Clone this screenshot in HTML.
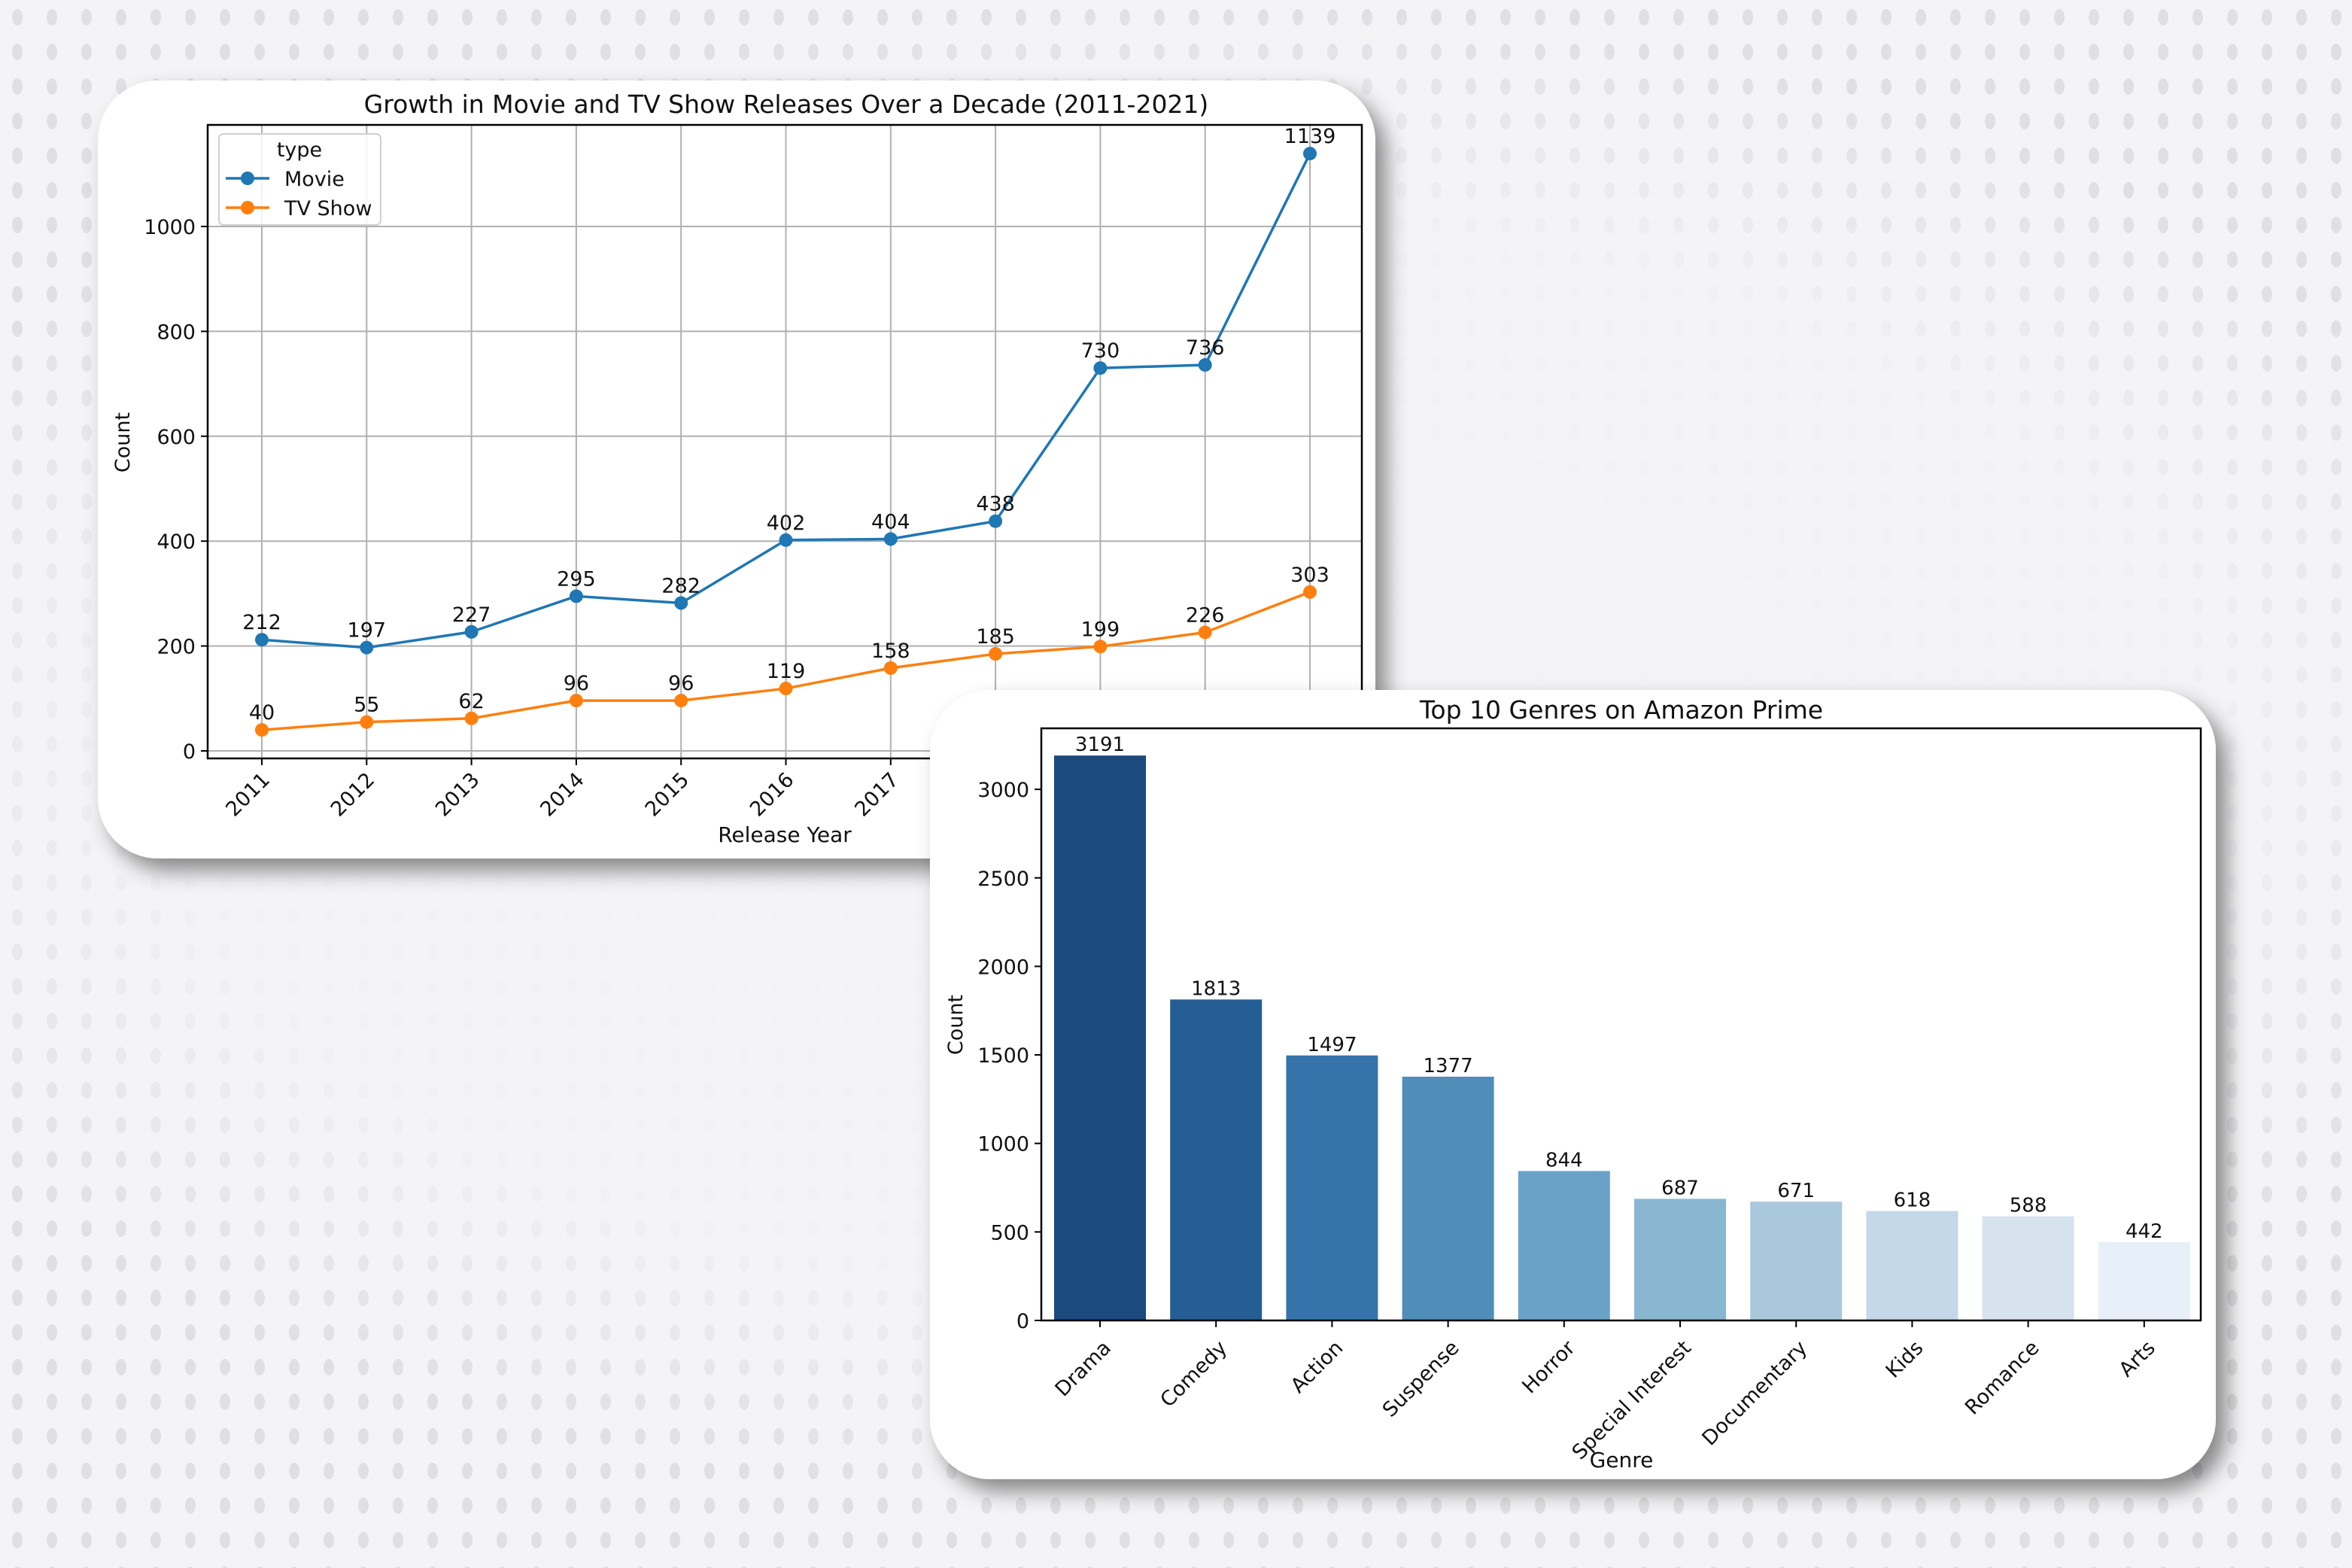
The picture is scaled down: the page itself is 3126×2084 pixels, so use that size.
<!DOCTYPE html>
<html><head><meta charset="utf-8"><style>
html,body{margin:0;padding:0;width:3126px;height:2084px;overflow:hidden;background:#f4f4f6}
svg text{font-family:"DejaVu Sans","Liberation Sans",sans-serif;fill:#111}
</style></head><body>
<svg id="s" width="3126" height="2084" viewBox="0 0 3126 2084" xmlns="http://www.w3.org/2000/svg">
<defs>
<filter id="sh" x="-10%" y="-10%" width="130%" height="130%"><feDropShadow dx="14" dy="16" stdDeviation="14" flood-color="#000" flood-opacity="0.45"/></filter>
<pattern id="dots" width="46" height="46" patternUnits="userSpaceOnUse"><ellipse cx="23" cy="23" rx="7" ry="11" fill="#e0e0e4"/></pattern>
<radialGradient id="fade" cx="0.5" cy="0.5" r="0.5"><stop offset="0" stop-color="#f4f4f6" stop-opacity="1"/><stop offset="0.7" stop-color="#f4f4f6" stop-opacity="0.9"/><stop offset="1" stop-color="#f4f4f6" stop-opacity="0"/></radialGradient>
</defs>
<rect width="3126" height="2084" fill="url(#dots)"/>
<ellipse cx="1560" cy="1000" rx="1900" ry="1000" fill="url(#fade)"/>
<g id="c1"></g>
<g id="c2"></g>
</svg>
<script>
const years=[2011,2012,2013,2014,2015,2016,2017,2018,2019,2020,2021];
const movieVals=[212,197,227,295,282,402,404,438,730,736,1139];
const tvVals=[40,55,62,96,96,119,158,185,199,226,303];
const yTicks1=[0,200,400,600,800,1000];
const genres=["Drama","Comedy","Action","Suspense","Horror","Special Interest","Documentary","Kids","Romance","Arts"];
const genreVals=[3191,1813,1497,1377,844,687,671,618,588,442];
const yTicks2=[0,500,1000,1500,2000,2500,3000];
const barColors=["#1b4a7e","#255e94","#3474ab","#508db8","#6aa2c7","#89b6d1","#a9c8dc","#c4d8e8","#d6e3ef","#e7eff8"];
const NS="http://www.w3.org/2000/svg";
function mk(p,t,a,txt){const e=document.createElementNS(NS,t);for(const k in a)e.setAttribute(k,a[k]);if(txt!==undefined)e.textContent=txt;p.appendChild(e);return e;}

// ---------- Chart 1 ----------
const c1=document.getElementById('c1');
const card1=mk(c1,'rect',{x:130,y:107,width:1698,height:1034,rx:80,fill:'#fff',filter:'url(#sh)'});


const L=276,R=1810,T=166,B=1008;
const x1=y=>348+(y-2011)*139.3;
const y1=v=>998-v*0.697;
for(const yr of years){const g=mk(c1,'line',{x1:x1(yr),x2:x1(yr),y1:T,y2:B,stroke:'#b0b0b0','stroke-width':2});
}
for(const t of yTicks1){const g=mk(c1,'line',{x1:L,x2:R,y1:y1(t),y2:y1(t),stroke:'#b0b0b0','stroke-width':2});

mk(c1,'line',{x1:L-9,x2:L,y1:y1(t),y2:y1(t),stroke:'#000','stroke-width':2});
const tl=mk(c1,'text',{x:L-16,y:y1(t)+10,'font-size':27,'text-anchor':'end'},t);
}
for(const yr of years){mk(c1,'line',{x1:x1(yr),x2:x1(yr),y1:B,y2:B+9,stroke:'#000','stroke-width':2});
const tl=mk(c1,'text',{x:x1(yr)+12,y:B+30,'font-size':27,'text-anchor':'end',transform:`rotate(-45 ${x1(yr)+12} ${B+30})`},yr);
}
const ax1=mk(c1,'rect',{x:L,y:T,width:R-L,height:B-T,fill:'none',stroke:'#000','stroke-width':2.5});

function series(vals,col,name){
 const pts=years.map((yr,i)=>x1(yr)+','+y1(vals[i])).join(' ');
 const pl=mk(c1,'polyline',{points:pts,fill:'none',stroke:col,'stroke-width':3.5});
 
 years.forEach((yr,i)=>{const c=mk(c1,'circle',{cx:x1(yr),cy:y1(vals[i]),r:9,fill:col});
 
 const t=mk(c1,'text',{x:x1(yr),y:y1(vals[i])-14,'font-size':27,'text-anchor':'middle'},vals[i]);
 });
}
series(movieVals,'#1f77b4','movie');
series(tvVals,'#ff7f0e','tv-show');
const lg=mk(c1,'g',{});

mk(lg,'rect',{x:291,y:178,width:215,height:121,rx:6,fill:'#fff','fill-opacity':0.85,stroke:'#d0d0d0','stroke-width':2});
mk(lg,'text',{x:398,y:208,'font-size':27,'text-anchor':'middle'},'type');
mk(lg,'line',{x1:300,x2:358,y1:237,y2:237,stroke:'#1f77b4','stroke-width':3.5});
mk(lg,'circle',{cx:329,cy:237,r:9,fill:'#1f77b4'});
mk(lg,'text',{x:378,y:247,'font-size':27},'Movie');
mk(lg,'line',{x1:300,x2:358,y1:276,y2:276,stroke:'#ff7f0e','stroke-width':3.5});
mk(lg,'circle',{cx:329,cy:276,r:9,fill:'#ff7f0e'});
mk(lg,'text',{x:378,y:286,'font-size':27},'TV Show');
let t=mk(c1,'text',{x:1045,y:150,'font-size':33,'text-anchor':'middle'},'Growth in Movie and TV Show Releases Over a Decade (2011-2021)');

t=mk(c1,'text',{x:1043,y:1119,'font-size':28,'text-anchor':'middle'},'Release Year');

t=mk(c1,'text',{x:172,y:588,'font-size':27,'text-anchor':'middle',transform:'rotate(-90 172 588)'},'Count');


// ---------- Chart 2 ----------
const c2=document.getElementById('c2');
const card2=mk(c2,'rect',{x:1236,y:917,width:1709,height:1049,rx:80,fill:'#fff',filter:'url(#sh)'});

const L2=1384,R2=2925,T2=968,B2=1755;
const y2=v=>B2-v*0.2353;
const xc=i=>1462+i*154.2;
const bw=122;
genres.forEach((g,i)=>{
 const b=mk(c2,'rect',{x:xc(i)-bw/2,y:y2(genreVals[i]),width:bw,height:B2-y2(genreVals[i]),fill:barColors[i]});
 
 const v=mk(c2,'text',{x:xc(i),y:y2(genreVals[i])-6,'font-size':26,'text-anchor':'middle'},genreVals[i]);
 
 mk(c2,'line',{x1:xc(i),x2:xc(i),y1:B2,y2:B2+9,stroke:'#000','stroke-width':2});
 const tl=mk(c2,'text',{x:xc(i)+16,y:B2+38,'font-size':27,'text-anchor':'end',transform:`rotate(-45 ${xc(i)+16} ${B2+38})`},g);
 
});
for(const tk of yTicks2){mk(c2,'line',{x1:L2-9,x2:L2,y1:y2(tk),y2:y2(tk),stroke:'#000','stroke-width':2});
 const tl=mk(c2,'text',{x:L2-16,y:y2(tk)+10,'font-size':27,'text-anchor':'end'},tk);
 }
const ax2=mk(c2,'rect',{x:L2,y:T2,width:R2-L2,height:B2-T2,fill:'none',stroke:'#000','stroke-width':2.5});

t=mk(c2,'text',{x:2155,y:955,'font-size':33,'text-anchor':'middle'},'Top 10 Genres on Amazon Prime');

t=mk(c2,'text',{x:2155,y:1950,'font-size':28,'text-anchor':'middle'},'Genre');

t=mk(c2,'text',{x:1279,y:1362,'font-size':27,'text-anchor':'middle',transform:'rotate(-90 1279 1362)'},'Count');

</script>
</body></html>
